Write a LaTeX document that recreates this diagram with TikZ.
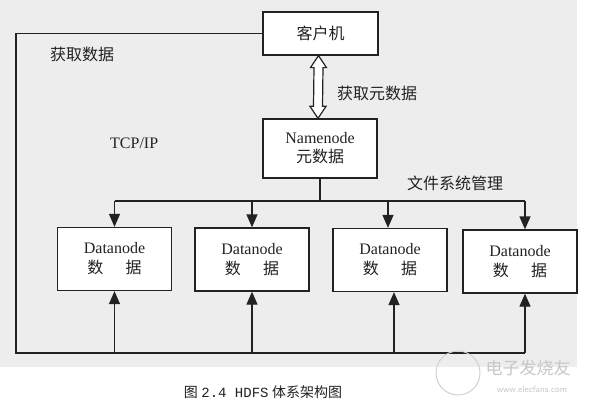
\documentclass[tikz,border=0pt]{standalone}
\usepackage{fontspec}
\setmainfont{Liberation Serif}
\setmonofont{Liberation Mono}
\newfontfamily\cjk{Noto Sans CJK SC}
\usetikzlibrary{arrows.meta,calc}
\definecolor{scan}{HTML}{EDEDED}
\definecolor{ink}{HTML}{222222}
\begin{document}
\begin{tikzpicture}[x=1pt,y=-1pt,
  box/.style={draw=ink,line width=1.3pt,fill=white,inner sep=0pt,align=center,
    font=\fontsize{16}{20}\selectfont,text=ink},
  dnbox/.style={box,minimum width=114pt,minimum height=63pt},
  link/.style={draw=ink,line width=1.3pt},
  arr/.style={link,-{Triangle[length=13pt,width=11pt]}},
  hollow/.style={draw=ink,line width=1.2pt,fill=white,line join=miter},
  lbl/.style={anchor=west,inner sep=0pt,font=\fontsize{16}{20}\selectfont\cjk,text=ink},
  wm/.style={text=black!22,inner sep=0pt}
]
\useasboundingbox (0,0) rectangle (590,404);
\fill[white] (0,0) rectangle (590,404);
\fill[scan] (0,0) rectangle (577,367);

% nodes
\node[box,minimum width=115pt,minimum height=43pt] (client) at (320.5,33.5) {\cjk 客户机};
\node[box,minimum width=114pt,minimum height=59pt] (nn) at (320,148.5) {Namenode\\[-1pt]{\cjk 元数据}};
\node[dnbox] (dn1) at (114.5,259) {Datanode\\{\cjk 数\hspace{1.4em}据}};
\node[dnbox] (dn2) at (252,259.5) {Datanode\\{\cjk 数\hspace{1.4em}据}};
\node[dnbox] (dn3) at (390,260) {Datanode\\{\cjk 数\hspace{1.4em}据}};
\node[dnbox] (dn4) at (520,261.5) {Datanode\\{\cjk 数\hspace{1.4em}据}};

% hollow double arrow client <-> namenode
\coordinate (dt) at ($(client.south)+(-2,0)$);
\coordinate (db) at ($(nn.north)+(-2,0)$);
\draw[hollow] (dt) -- ($(dt)+(8,12)$) -- ($(dt)+(4.5,12)$) -- ($(db)+(4.5,-12)$)
  -- ($(db)+(8,-12)$) -- (db) -- ($(db)+(-8,-12)$) -- ($(db)+(-4.5,-12)$)
  -- ($(dt)+(-4.5,12)$) -- ($(dt)+(-8,12)$) -- cycle;

% labels
\node[lbl] (l1) at (50,54) {获取数据};
\node[lbl] (l2) at (337,93) {获取元数据};
\node[lbl,font=\fontsize{16}{20}\selectfont] (l3) at (110,143) {TCP/IP};
\node[lbl] (l4) at (407,183) {文件系统管理};

% coordinates
\coordinate (split) at (320,201);
\coordinate (x4) at (525,0);
\coordinate (bl) at (16,353);
\coordinate (br) at (525,353);

% namenode distribution
\draw[link] (nn.south) -- (split);
\draw[link] (split -| dn1.north) -- (split -| x4);
\draw[arr] (split -| dn1.north) -- (dn1.north);
\draw[arr] (split -| dn2.north) -- (dn2.north);
\draw[arr] ($(split -| dn3.north)+(-2,0)$) -- ($(dn3.north)+(-2,0)$);
\draw[arr] (split -| x4) -- (x4 |- dn4.north);

% client data path
\draw[link] (client.west) -| (bl) -- (br);
\draw[arr] (bl -| dn1.south) -- (dn1.south);
\draw[arr] (bl -| dn2.south) -- (dn2.south);
\draw[arr] ($(bl -| dn3.south)+(4,0)$) -- ($(dn3.south)+(4,0)$);
\draw[arr] (br) -- (br |- dn4.south);

% caption
\node[inner sep=0pt,text=ink,font=\fontsize{14}{16}\selectfont] (cap) at (263,392)
  {{\cjk 图} {\ttfamily 2.4 HDFS} {\cjk 体系架构图}};

% watermark
\draw[black!18,line width=1pt] (458,373) circle (22pt);
\node[wm,font=\fontsize{17}{20}\selectfont\cjk] (wm1) at (528,368) {电子发烧友};
\node[wm,font=\fontsize{9}{11}\selectfont\sffamily] (wm2) at (532,389) {www.elecfans.com};
\end{tikzpicture}
\end{document}
